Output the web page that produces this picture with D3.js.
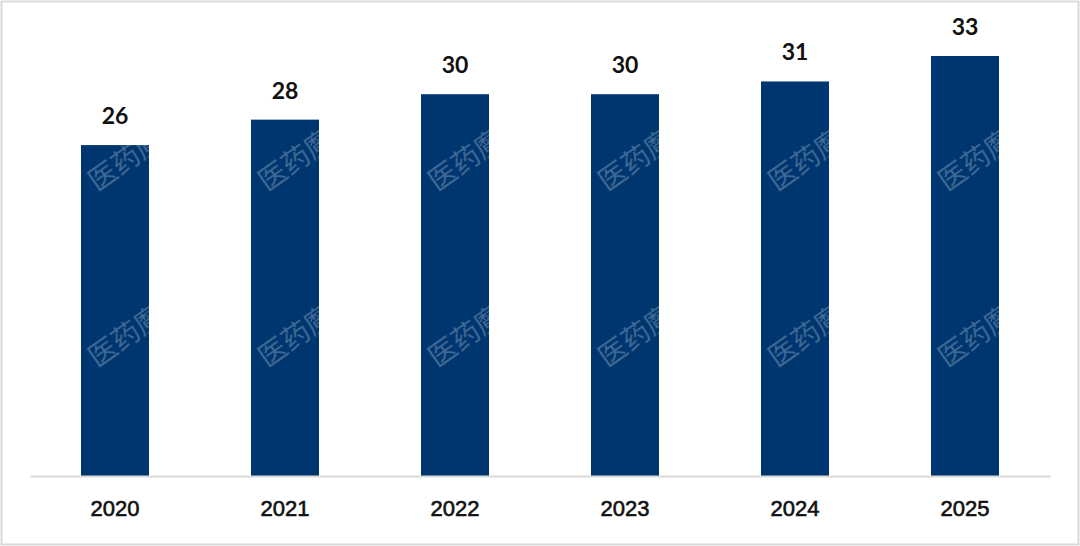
<!DOCTYPE html>
<html>
<head>
<meta charset="utf-8">
<script src="https://cdn.jsdelivr.net/npm/d3@7"></script>
<style>
  body { margin: 0; background: #fff; }
</style>
</head>
<body>
<div id="chart"></div>
<script>
var years = ["2020", "2021", "2022", "2023", "2024", "2025"];
var values = [26, 28, 30, 30, 31, 33];

var W = 1080, H = 546;
var baseY = 476;

var svg = d3.select("#chart")
  .append("svg")
    .attr("width", W)
    .attr("height", H);

// frame
svg.append("rect")
  .attr("x", 1.5).attr("y", 1.5)
  .attr("width", W - 3).attr("height", H - 3)
  .attr("fill", "#fff")
  .attr("stroke", "#d9d9d9")
  .attr("stroke-width", 2);

var x = d3.scaleBand()
  .domain(years)
  .range([30, 1050])
  .paddingInner(0.6)
  .paddingOuter(0.3);

var y = d3.scaleLinear()
  .domain([0, 33])
  .range([baseY, 56]);

var data = years.map(function(d, i) { return { year: d, value: values[i] }; });

svg.selectAll(".bar")
  .data(data)
  .enter().append("rect")
    .attr("class", "bar")
    .attr("x", function(d) { return x(d.year); })
    .attr("y", function(d) { return y(d.value); })
    .attr("width", x.bandwidth())
    .attr("height", function(d) { return baseY - y(d.value); })
    .attr("fill", "#003670");

// watermark (white, only visible on the bars)
var wm = [];
years.forEach(function(d) { [192, 368].forEach(function(yy) { wm.push({ year: d, y: yy }); }); });
svg.selectAll(".wm")
  .data(wm)
  .enter().append("text")
    .attr("class", "wm")
    .attr("transform", function(d) {
      return "translate(" + (x(d.year) + 16) + "," + d.y + ") rotate(-35)";
    })
    .attr("fill", "#fff")
    .attr("fill-opacity", 0.25)
    .attr("font-family", "Noto Sans CJK SC")
    .attr("font-size", 28)
    .text("医药魔方");

// baseline axis
var axis = svg.append("g")
  .attr("transform", "translate(0," + baseY + ")")
  .call(d3.axisBottom(x).tickSize(0).tickPadding(24));
axis.select(".domain")
  .attr("stroke", "#d9d9d9")
  .attr("stroke-width", 2);
axis.selectAll("text")
  .attr("font-family", "Liberation Sans, Arial, sans-serif")
  .attr("font-size", 22)
  .attr("fill", "#111")
  .attr("stroke", "#111")
  .attr("stroke-width", 0.6);

// value labels
svg.selectAll(".lbl")
  .data(data)
  .enter().append("text")
    .attr("class", "lbl")
    .attr("x", function(d) { return x(d.year) + x.bandwidth() / 2; })
    .attr("y", function(d) { return y(d.value) - 21; })
    .attr("text-anchor", "middle")
    .attr("font-family", "Lato, sans-serif")
    .attr("font-size", 23)
    .attr("font-weight", "bold")
    .attr("fill", "#111")
    .text(function(d) { return d.value; });
</script>
</body>
</html>
